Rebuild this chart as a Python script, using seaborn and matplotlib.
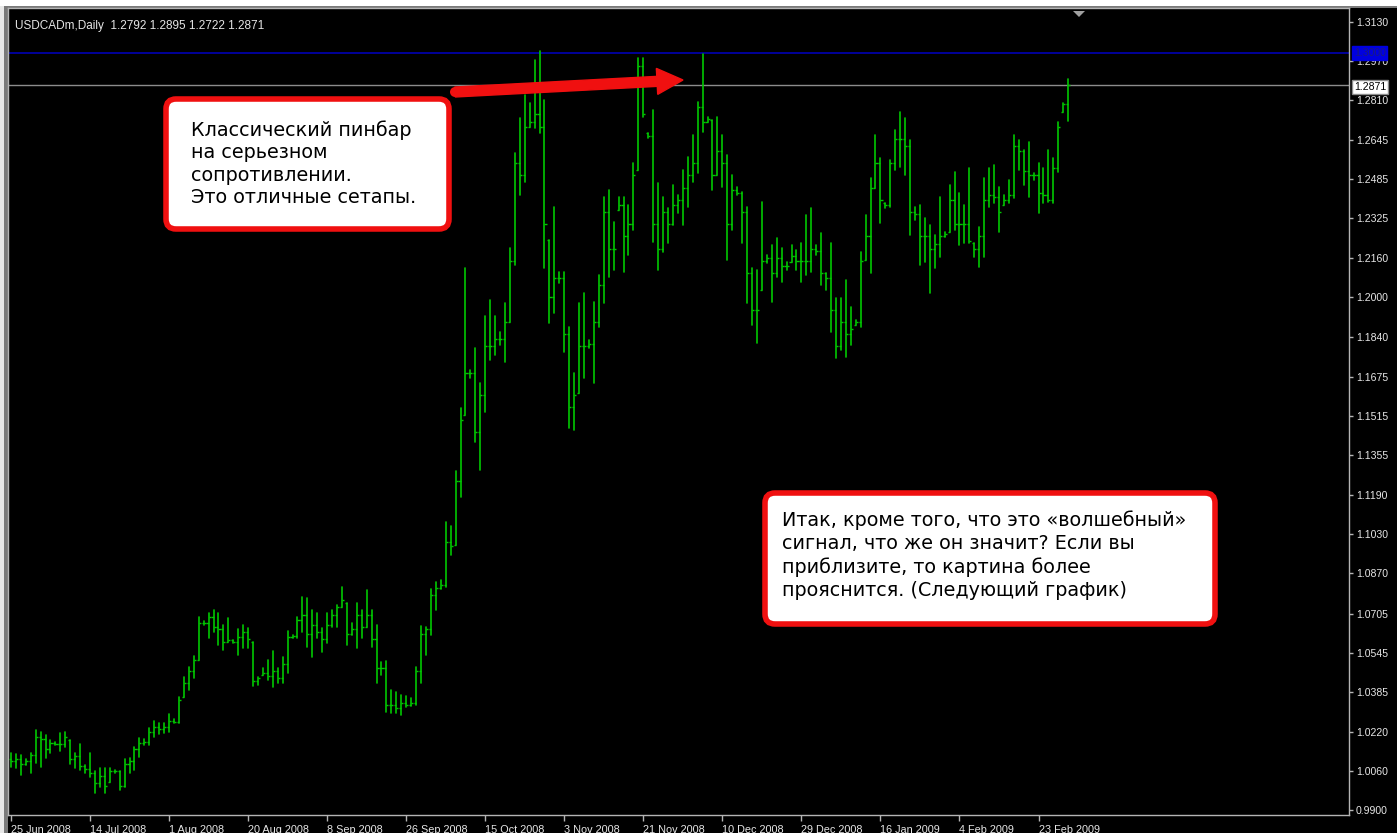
import numpy as np
import pandas as pd
import matplotlib
matplotlib.use("Agg")
import matplotlib.pyplot as plt
import seaborn as sns
from matplotlib.patches import FancyBboxPatch, Rectangle, FancyArrow, Polygon, Circle
from matplotlib.transforms import IdentityTransform

# ---------------- data ----------------
highs = [
    1.0134, 1.0130, 1.0126, 1.0109, 1.0134, 1.0228, 1.0220, 1.0208, 1.0187, 1.0179,
    1.0216, 1.0220, 1.0187, 1.0134, 1.0171, 1.0085, 1.0134, 1.0060, 1.0072, 1.0072,
    1.0072, 1.0064, 1.0060, 1.0109, 1.0114, 1.0159, 1.0195, 1.0191, 1.0236, 1.0265,
    1.0257, 1.0257, 1.0294, 1.0273, 1.0363, 1.0445, 1.0486, 1.0531, 1.0691, 1.0675,
    1.0708, 1.0720, 1.0708, 1.0658, 1.0687, 1.0597, 1.0642, 1.0658, 1.0646, 1.0589,
    1.0445, 1.0482, 1.0515, 1.0552, 1.0482, 1.0527, 1.0634, 1.0617, 1.0691, 1.0773,
    1.0769, 1.0720, 1.0708, 1.0646, 1.0708, 1.0720, 1.0740, 1.0814, 1.0749, 1.0667,
    1.0749, 1.0720, 1.0802, 1.0720, 1.0658, 1.0507, 1.0511, 1.0392, 1.0384, 1.0372,
    1.0367, 1.0359, 1.0486, 1.0654, 1.0650, 1.0806, 1.0835, 1.0843, 1.1080, 1.1064,
    1.1289, 1.1547, 1.2121, 1.1703, 1.1793, 1.1650, 1.1924, 1.1990, 1.1924, 1.1859,
    1.1978, 1.2203, 1.2592, 1.2736, 1.2830, 1.2797, 1.2973, 1.3010, 1.2809, 1.2236,
    1.2371, 1.2105, 1.2105, 1.1879, 1.1691, 1.1978, 1.2019, 1.1826, 1.1982, 1.2092,
    1.2412, 1.2441, 1.2309, 1.2412, 1.2412, 1.2379, 1.2551, 1.2981, 1.2981, 1.2674,
    1.2768, 1.2469, 1.2412, 1.2367, 1.2461, 1.2420, 1.2522, 1.2576, 1.2666, 1.2801,
    1.2998, 1.2740, 1.2727, 1.2740, 1.2666, 1.2584, 1.2502, 1.2453, 1.2432, 1.2371,
    1.2121, 1.2113, 1.2391, 1.2174, 1.2215, 1.2244, 1.2203, 1.2146, 1.2215, 1.2195,
    1.2223, 1.2338, 1.2367, 1.2215, 1.2264, 1.2101, 1.2223, 1.1998, 1.1998, 1.2072,
    1.1961, 1.1908, 1.2187, 1.2338, 1.2490, 1.2666, 1.2572, 1.2387, 1.2563, 1.2686,
    1.2760, 1.2736, 1.2645, 1.2371, 1.2379, 1.2326, 1.2297, 1.2256, 1.2412, 1.2269,
    1.2461, 1.2514, 1.2428, 1.2379, 1.2531, 1.2223, 1.2289, 1.2490, 1.2531, 1.2543,
    1.2453, 1.2420, 1.2482, 1.2666, 1.2645, 1.2604, 1.2637, 1.2510, 1.2551, 1.2531,
    1.2604, 1.2572, 1.2719, 1.2795, 1.2895,
]
lows = [
    1.0077, 1.0072, 1.0044, 1.0085, 1.0052, 1.0093, 1.0077, 1.0114, 1.0134, 1.0167,
    1.0142, 1.0159, 1.0089, 1.0072, 1.0064, 1.0052, 1.0036, 0.9970, 0.9995, 0.9970,
    1.0015, 1.0052, 0.9982, 0.9995, 1.0052, 1.0064, 1.0118, 1.0167, 1.0167, 1.0199,
    1.0212, 1.0216, 1.0220, 1.0257, 1.0257, 1.0363, 1.0392, 1.0441, 1.0515, 1.0660,
    1.0605, 1.0630, 1.0576, 1.0556, 1.0589, 1.0585, 1.0535, 1.0564, 1.0564, 1.0408,
    1.0412, 1.0453, 1.0433, 1.0404, 1.0421, 1.0421, 1.0462, 1.0605, 1.0605, 1.0630,
    1.0568, 1.0527, 1.0605, 1.0548, 1.0585, 1.0650, 1.0650, 1.0732, 1.0576, 1.0617,
    1.0564, 1.0605, 1.0650, 1.0568, 1.0421, 1.0453, 1.0302, 1.0298, 1.0298, 1.0290,
    1.0322, 1.0327, 1.0331, 1.0421, 1.0535, 1.0617, 1.0720, 1.0806, 1.0814, 1.0945,
    1.0986, 1.1183, 1.1519, 1.1670, 1.1408, 1.1293, 1.1531, 1.1744, 1.1765, 1.1806,
    1.1736, 1.1900, 1.2133, 1.2420, 1.2473, 1.2699, 1.2695, 1.2674, 1.2121, 1.1896,
    1.1937, 1.2060, 1.1777, 1.1465, 1.1457, 1.1609, 1.1670, 1.1793, 1.1650, 1.1879,
    1.1978, 1.2084, 1.2113, 1.2359, 1.2105, 1.2174, 1.2277, 1.2522, 1.2740, 1.2654,
    1.2228, 1.2113, 1.2187, 1.2223, 1.2297, 1.2346, 1.2297, 1.2371, 1.2473, 1.2510,
    1.2678, 1.2719, 1.2441, 1.2502, 1.2453, 1.2154, 1.2277, 1.2420, 1.2223, 1.1978,
    1.1887, 1.1814, 1.2031, 1.2141, 1.1982, 1.2084, 1.2064, 1.2113, 1.2146, 1.2113,
    1.2064, 1.2092, 1.2105, 1.2174, 1.2051, 1.2031, 1.1859, 1.1752, 1.1785, 1.1756,
    1.1806, 1.1887, 1.1879, 1.2154, 1.2101, 1.2449, 1.2305, 1.2367, 1.2371, 1.2522,
    1.2535, 1.2502, 1.2256, 1.2318, 1.2133, 1.2146, 1.2019, 1.2121, 1.2166, 1.2248,
    1.2269, 1.2277, 1.2215, 1.2223, 1.2223, 1.2166, 1.2125, 1.2166, 1.2371, 1.2387,
    1.2269, 1.2379, 1.2387, 1.2408, 1.2522, 1.2461, 1.2412, 1.2482, 1.2346, 1.2387,
    1.2391, 1.2387, 1.2514, 1.2760, 1.2722,
]
closes = [
    1.0100, 1.0110, 1.0090, 1.0100, 1.0125, 1.0200, 1.0190, 1.0150, 1.0175, 1.0172,
    1.0170, 1.0200, 1.0110, 1.0120, 1.0080, 1.0070, 1.0050, 1.0010, 1.0040, 1.0000,
    1.0060, 1.0058, 1.0000, 1.0090, 1.0100, 1.0150, 1.0175, 1.0180, 1.0220, 1.0240,
    1.0230, 1.0240, 1.0265, 1.0262, 1.0350, 1.0420, 1.0470, 1.0515, 1.0665, 1.0668,
    1.0690, 1.0650, 1.0640, 1.0590, 1.0595, 1.0590, 1.0610, 1.0630, 1.0600, 1.0430,
    1.0440, 1.0460, 1.0450, 1.0470, 1.0440, 1.0500, 1.0610, 1.0612, 1.0680, 1.0700,
    1.0620, 1.0660, 1.0630, 1.0600, 1.0660, 1.0700, 1.0730, 1.0760, 1.0620, 1.0640,
    1.0700, 1.0650, 1.0700, 1.0600, 1.0480, 1.0480, 1.0330, 1.0330, 1.0320, 1.0340,
    1.0330, 1.0340, 1.0470, 1.0620, 1.0640, 1.0780, 1.0810, 1.0820, 1.1000, 1.0980,
    1.1250, 1.1500, 1.1690, 1.1690, 1.1450, 1.1600, 1.1800, 1.1800, 1.1830, 1.1830,
    1.1900, 1.2150, 1.2550, 1.2500, 1.2700, 1.2720, 1.2750, 1.2700, 1.2300, 1.2000,
    1.2080, 1.2080, 1.1850, 1.1550, 1.1600, 1.1800, 1.1800, 1.1810, 1.1900, 1.2050,
    1.2350, 1.2200, 1.2200, 1.2380, 1.2250, 1.2300, 1.2500, 1.2950, 1.2750, 1.2660,
    1.2300, 1.2200, 1.2350, 1.2300, 1.2380, 1.2400, 1.2450, 1.2500, 1.2550, 1.2780,
    1.2720, 1.2730, 1.2500, 1.2600, 1.2550, 1.2300, 1.2440, 1.2430, 1.2350, 1.2100,
    1.1950, 1.1950, 1.2150, 1.2160, 1.2100, 1.2160, 1.2130, 1.2130, 1.2170, 1.2150,
    1.2150, 1.2150, 1.2200, 1.2190, 1.2100, 1.2080, 1.1950, 1.1800, 1.1900, 1.1850,
    1.1870, 1.1900, 1.2150, 1.2250, 1.2450, 1.2550, 1.2400, 1.2380, 1.2550, 1.2650,
    1.2650, 1.2620, 1.2350, 1.2340, 1.2250, 1.2250, 1.2200, 1.2220, 1.2250, 1.2260,
    1.2400, 1.2300, 1.2300, 1.2300, 1.2230, 1.2200, 1.2250, 1.2400, 1.2420, 1.2410,
    1.2350, 1.2400, 1.2420, 1.2620, 1.2600, 1.2520, 1.2500, 1.2500, 1.2430, 1.2420,
    1.2400, 1.2530, 1.2700, 1.2792, 1.2871,
]
first_open = 1.0110

date_labels = ["25 Jun 2008", "14 Jul 2008", "1 Aug 2008", "20 Aug 2008", "8 Sep 2008",
               "26 Sep 2008", "15 Oct 2008", "3 Nov 2008", "21 Nov 2008", "10 Dec 2008",
               "29 Dec 2008", "16 Jan 2009", "4 Feb 2009", "23 Feb 2009"]
date_label_bars = [0, 16, 32, 48, 64, 80, 96, 112, 128, 144, 160, 176, 192, 208]
price_ticks = [1.3130, 1.2970, 1.2810, 1.2645, 1.2485, 1.2325, 1.2160, 1.2000, 1.1840,
               1.1675, 1.1515, 1.1355, 1.1190, 1.1030, 1.0870, 1.0705, 1.0545, 1.0385,
               1.0220, 1.0060, 0.9900]
resistance_level = 1.3000
last_price = 1.2871
header_text = "USDCADm,Daily  1.2792 1.2895 1.2722 1.2871"
note1_lines = ["Классический пинбар", "на серьезном", "сопротивлении.", "Это отличные сетапы."]
note2_lines = ["Итак, кроме того, что это «волшебный»", "сигнал, что же он значит? Если вы",
               "приблизите, то картина более", "прояснится. (Следующий график)"]

# ---------------- preparation ----------------
n = len(highs)
bars = np.arange(n)
opens = np.clip(np.array([first_open] + closes[:-1]), lows, highs)
df = pd.DataFrame({
    "bar": np.repeat(bars, 2),
    "price": np.ravel(np.column_stack([lows, highs])),
})

W, H = 1397, 833
GREEN = "#00c800"

sns.set_theme(style="dark")
plt.rcParams["font.family"] = ["DejaVu Sans"]
plt.rcParams["axes.facecolor"] = "black"

fig = plt.figure(figsize=(W / 100, H / 100), dpi=100, facecolor="black")
ax = fig.add_axes([8 / W, 18 / H, (1349 - 8) / W, (815 - 8) / H])
ax.set_facecolor("black")

# reference lines
ax.axhline(resistance_level, color="#0000b4", lw=1.2, zorder=1)
ax.axhline(last_price, color="#8c8c8c", lw=1.0, zorder=1)

# high-low bars via seaborn
sns.lineplot(data=df, x="bar", y="price", units="bar", estimator=None,
             color=GREEN, lw=1.2, ax=ax, legend=False, zorder=3)
# open / close ticks
ax.hlines(opens, bars - 0.42, bars, color=GREEN, lw=1.0, zorder=3)
ax.hlines(closes, bars, bars + 0.42, color=GREEN, lw=1.0, zorder=3)

ax.set_xlim(-0.6, 270.85)
ax.set_ylim(0.98796, 1.3186)
ax.set_xlabel("")
ax.set_ylabel("")
ax.grid(False)

for s in ax.spines.values():
    s.set_color("#b4b4b4")
    s.set_linewidth(1.0)
    s.set_visible(True)

ax.yaxis.tick_right()
ax.set_yticks(price_ticks)
ax.set_yticklabels([f"{v:.4f}" for v in price_ticks])
ax.tick_params(axis="y", colors="#b4b4b4", labelcolor="#e6e6e6", direction="out",
               length=3, width=1, labelsize=7.6, pad=2, right=True, left=False)
for lab in ax.get_yticklabels():
    lab.set_fontfamily("Liberation Sans")

ax.set_xticks(date_label_bars)
ax.set_xticklabels(date_labels)
ax.tick_params(axis="x", colors="#b4b4b4", labelcolor="#e6e6e6", direction="out",
               length=4, width=1, labelsize=7.8, pad=3, bottom=True)
for lab in ax.get_xticklabels():
    lab.set_ha("left")
    lab.set_fontfamily("Liberation Sans")

# header
ax.text(0.005, 0.985, header_text, transform=ax.transAxes, color="#e6e6e6",
        fontsize=8.5, family="Liberation Sans", va="top", ha="left")

# ---------------- overlay (pixel coordinates) ----------------
ID = IdentityTransform()

def Y(y):
    return H - y

# window frame
fig.add_artist(Rectangle((0, Y(6)), W, 6, transform=ID, fc="white", ec="none", zorder=0))
fig.add_artist(Rectangle((0, 0), 4, H - 6, transform=ID, fc="#e8e8e8", ec="none", zorder=0))
fig.add_artist(Rectangle((4, 0), 4, H - 6, transform=ID, fc="#7a7a7a", ec="none", zorder=0))
fig.add_artist(Rectangle((4, Y(8)), W - 4, 2, transform=ID, fc="#7a7a7a", ec="none", zorder=0))

# price highlights on axis
fig.text(1354 / W, 1 - 53 / H, f"{resistance_level:.4f}", color="#1a1a80", fontsize=7.6,
         family="Liberation Sans", va="center", ha="left",
         bbox=dict(boxstyle="square,pad=0.15", fc="#0000e0", ec="#0000e0"))
fig.text(1354 / W, 1 - 87 / H, f"{last_price:.4f}", color="black", fontsize=7.6,
         family="Liberation Sans", va="center", ha="left",
         bbox=dict(boxstyle="square,pad=0.15", fc="white", ec="#8c8c8c"))

# shift marker
fig.add_artist(Polygon([(1073, Y(11)), (1085, Y(11)), (1079, Y(17))], closed=True,
                       transform=ID, fc="#a0a0a0", ec="none"))

# callout boxes
RED = "#f01010"
fig.add_artist(FancyBboxPatch((166, Y(229)), 283, 130, boxstyle="round,pad=0,rounding_size=10",
                              transform=ID, fc="white", ec=RED, lw=4.0, zorder=10))
fig.add_artist(FancyBboxPatch((765, Y(624)), 450, 131, boxstyle="round,pad=0,rounding_size=10",
                              transform=ID, fc="white", ec=RED, lw=4.0, zorder=10))
for i, line in enumerate(note1_lines):
    fig.text(191 / W, 1 - (136 + 22.3 * i) / H, line, color="black", fontsize=13.8,
             va="baseline", ha="left", zorder=11)
for i, line in enumerate(note2_lines):
    fig.text(782 / W, 1 - (526 + 23.3 * i) / H, line, color="black", fontsize=13.8,
             va="baseline", ha="left", zorder=11)

# red arrow
fig.add_artist(FancyArrow(455, Y(92), 683 - 455, -(80 - 92), width=10, head_width=26,
                          head_length=26, length_includes_head=True, transform=ID,
                          fc=RED, ec=RED, zorder=12))
fig.add_artist(Circle((455, Y(92)), 5, transform=ID, fc=RED, ec="none", zorder=12))

fig.savefig("out.png", dpi=100, facecolor="black")
